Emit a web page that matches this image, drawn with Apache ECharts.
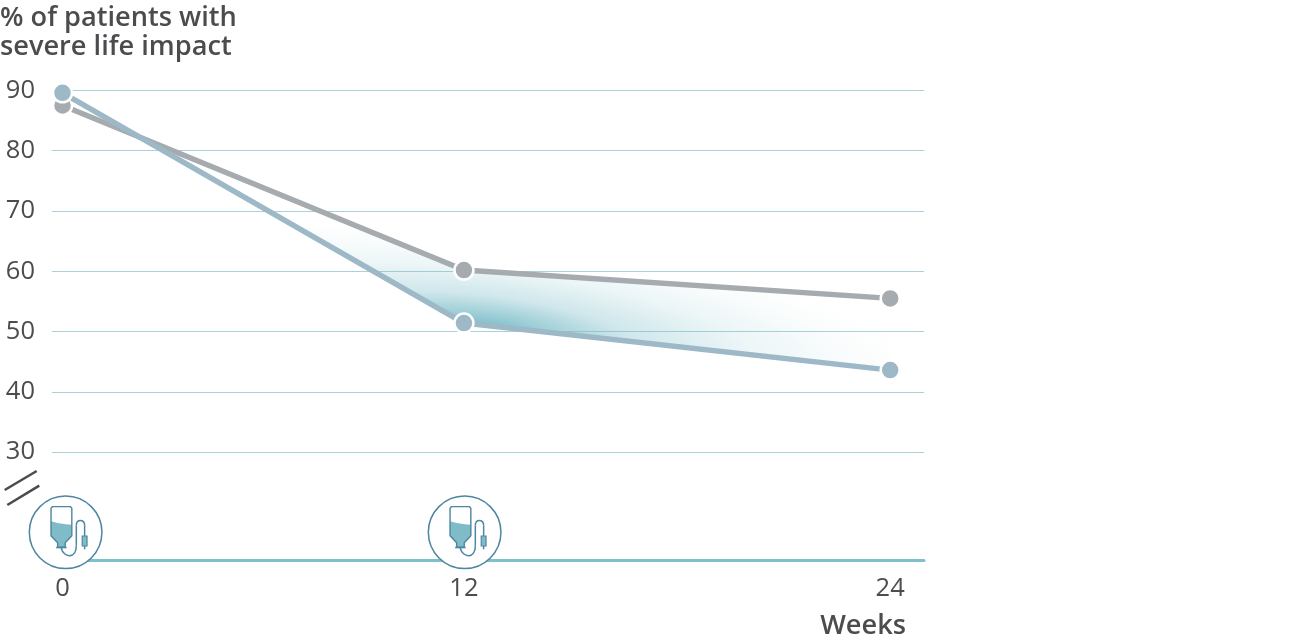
<!DOCTYPE html>
<html><head><meta charset="utf-8">
<style>html,body{margin:0;padding:0;background:#fff}#c{width:1304px;height:644px}</style>
<script src="https://cdn.jsdelivr.net/npm/echarts@6/dist/echarts.min.js"></script>
</head><body><div id="c"></div>
<script>
const weekPositions = [0, 11.64, 24];
const weekLabels = ['0', '12', '24'];
const yTicks = [30, 40, 50, 60, 70, 80, 90];
const greySeries = [87.5, 60.2, 55.5];
const blueSeries = [89.6, 51.4, 43.6];
const infusionWeeks = [0.09, 11.66];
const infusionLevel = [16.7, 16.7];

const FONT = '"Open Sans", "Noto Sans", sans-serif';
const TEXT = '#4a4c4e';
const TEAL = '#4d86a0';
const FILL = '#7fbcc8';
const GRID = '#a9d2d8';

const chart = echarts.init(document.getElementById('c'), null, {renderer: 'canvas'});
const pairs = s => s.map((v, i) => [weekPositions[i], v]);

function renderBand(params, api) {
  const c = api.coord([weekPositions[1] + 0.5, 50.8]);
  const th = 0.112, k = 0.21, R = 450;
  const cos = Math.cos(th), sin = Math.sin(th);
  const ring = pairs(blueSeries).concat(pairs(greySeries).reverse());
  const pts = ring.map(p => {
    const q = api.coord(p), dx = q[0] - c[0], dy = q[1] - c[1];
    return [dx * cos + dy * sin, (-dx * sin + dy * cos) / k];
  });
  return {
    type: 'polygon', x: c[0], y: c[1], rotation: -th, scaleX: 1, scaleY: k,
    shape: {points: pts},
    style: {fill: new echarts.graphic.RadialGradient(0, 0, R, [
      {offset: 0, color: 'rgba(122,188,200,1)'},
      {offset: 0.11, color: 'rgba(122,188,200,0.78)'},
      {offset: 0.33, color: 'rgba(122,188,200,0.36)'},
      {offset: 0.6, color: 'rgba(122,188,200,0.14)'},
      {offset: 0.85, color: 'rgba(122,188,200,0.03)'},
      {offset: 1, color: 'rgba(122,188,200,0)'}
    ], true)}
  };
}

function renderIcon(params, api) {
  const c = api.coord([api.value(0), api.value(1)]);
  const line = {stroke: TEAL, lineWidth: 1.5, fill: null};
  return {
    type: 'group', x: c[0], y: c[1],
    children: [
      {type: 'circle', shape: {cx: 0, cy: 0, r: 36.3}, style: {fill: '#fff', stroke: TEAL, lineWidth: 1.5}},
      {type: 'polygon', shape: {points: [[-14.6, -11], [-8, -9.2], [0, -8], [6.2, -7.6], [6.2, 3.5], [-0.4, 10.5], [-0.4, 15], [-8, 15], [-8, 10.5], [-14.6, 3.5]]}, style: {fill: FILL}},
      {type: 'polygon', shape: {points: [[-13, -25.7], [4.6, -25.7], [6.2, -24], [6.2, 3.5], [-0.4, 10.5], [-0.4, 15], [-8, 15], [-8, 10.5], [-14.6, 3.5], [-14.6, -24]]}, style: {fill: null, stroke: TEAL, lineWidth: 1.4, lineJoin: 'round'}},
      {type: 'line', shape: {x1: -9.5, y1: 15.3, x2: 1, y2: 15.3}, style: line},
      {type: 'bezierCurve', shape: {x1: -4.5, y1: 15.5, cpx1: -2, cpy1: 26, cpx2: 11, cpy2: 27, x2: 10.7, y2: 13}, style: line},
      {type: 'line', shape: {x1: 10.7, y1: 13, x2: 10.7, y2: -7}, style: line},
      {type: 'bezierCurve', shape: {x1: 10.7, y1: -7, cpx1: 10.7, cpy1: -13.5, cpx2: 19, cpy2: -13.5, x2: 19, y2: -7}, style: line},
      {type: 'line', shape: {x1: 19, y1: -7, x2: 19, y2: 17}, style: line},
      {type: 'rect', shape: {x: 16.6, y: 3.7, width: 4.8, height: 10}, style: {fill: FILL, stroke: TEAL, lineWidth: 1.2}}
    ]
  };
}

chart.setOption({
  animation: false,
  backgroundColor: '#fff',
  textStyle: {fontFamily: FONT},
  grid: {left: 52, right: 380, top: 90.4, bottom: 191.9, containLabel: false},
  xAxis: {
    type: 'value', min: -0.305, max: 24.98, offset: 108,
    position: 'bottom',
    axisLine: {onZero: false, show: true, lineStyle: {color: '#7fc0cb', width: 3}},
    axisTick: {show: false},
    splitLine: {show: false},
    axisLabel: {
      customValues: weekPositions, margin: 16, color: TEXT, fontSize: 25.5, fontFamily: FONT,
      formatter: v => { const i = weekPositions.indexOf(v); return i < 0 ? '' : weekLabels[i]; }
    }
  },
  yAxis: {
    type: 'value', min: yTicks[0], max: yTicks[yTicks.length - 1], interval: 10,
    axisLine: {show: false}, axisTick: {show: false},
    splitLine: {show: true, lineStyle: {color: GRID, width: 1}},
    axisLabel: {margin: 17, color: TEXT, fontSize: 25.5, fontFamily: FONT}
  },
  series: [
    {type: 'custom', renderItem: renderBand, data: [[0, 0]], z: 1, silent: true, clip: false, encode: {x: 0, y: 1}},
    {name: 'Comparator', type: 'line', data: pairs(greySeries), z: 3, clip: false,
      symbol: 'circle', symbolSize: 19,
      lineStyle: {color: '#a5abae', width: 5.5},
      itemStyle: {color: '#a5abae', borderColor: '#fff', borderWidth: 2.5}},
    {name: 'Treatment', type: 'line', data: pairs(blueSeries), z: 4, clip: false,
      symbol: 'circle', symbolSize: 19,
      lineStyle: {color: '#9db8c6', width: 5.5},
      itemStyle: {color: '#9db8c6', borderColor: '#fff', borderWidth: 2.5}},
    {type: 'custom', renderItem: renderIcon, z: 5, silent: true, clip: false,
      data: infusionWeeks.map((w, i) => [w, infusionLevel[i]]), encode: {x: 0, y: 1}}
  ],
  graphic: [
    {type: 'text', left: 0, top: 4, style: {text: '% of patients with\nsevere life impact', font: '600 27.2px ' + FONT, fill: TEXT, lineHeight: 29}},
    {type: 'text', right: 398, top: 613, style: {text: 'Weeks', font: '600 27.2px ' + FONT, fill: TEXT}},
    {type: 'line', shape: {x1: 4.7, y1: 490, x2: 36.7, y2: 471}, style: {stroke: TEXT, lineWidth: 2.6}},
    {type: 'line', shape: {x1: 7.3, y1: 505, x2: 39.3, y2: 485.7}, style: {stroke: TEXT, lineWidth: 2.6}}
  ]
});
</script></body></html>
